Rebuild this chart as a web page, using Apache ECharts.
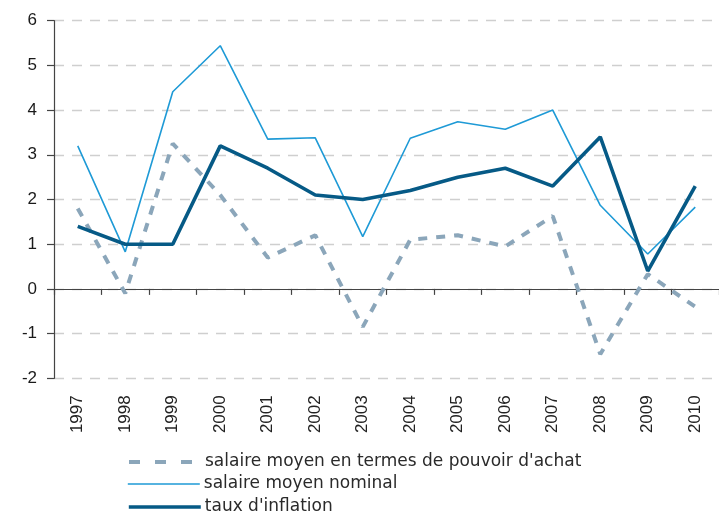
<!DOCTYPE html>
<html><head><meta charset="utf-8">
<script src="https://cdn.jsdelivr.net/npm/echarts@6/dist/echarts.min.js"></script>
<style>html,body{margin:0;padding:0;background:#fff}#c{width:719px;height:511px}</style>
</head><body><div id="c"></div>
<script>
var years = ['1997','1998','1999','2000','2001','2002','2003','2004','2005','2006','2007','2008','2009','2010'];
var pouvoirAchat = [1.8, -0.1, 3.25, 2.1, 0.7, 1.2, -0.85, 1.1, 1.2, 0.95, 1.63, -1.46, 0.33, -0.4];
var nominal = [3.2, 0.83, 4.41, 5.44, 3.35, 3.38, 1.17, 3.37, 3.74, 3.57, 4.0, 1.87, 0.78, 1.83];
var inflation = [1.4, 1.0, 1.0, 3.2, 2.7, 2.1, 2.0, 2.2, 2.5, 2.7, 2.3, 3.4, 0.4, 2.3];
var names = ["salaire moyen en termes de pouvoir d'achat", 'salaire moyen nominal', "taux d'inflation"];

function mkLegend(name, top, lineStyle) {
  return {
    orient: 'vertical', left: 127, top: top, itemWidth: 72, itemHeight: 14, itemGap: 0, padding: 0,
    itemStyle: {opacity: 0},
    lineStyle: lineStyle,
    textStyle: {fontFamily: 'DejaVu Sans', fontSize: 17, lineHeight: 18, color: '#2a2a2a', padding: [0,0,0,-1]},
    data: [name]
  };
}

var chart = echarts.init(document.getElementById('c'), null, {renderer:'canvas'});
chart.setOption({
  animation: false,
  grid: {left: 54, right: -10, top: 20.7, bottom: 132.7, containLabel: false},
  legend: [
    mkLegend(names[0], 453, {width: 4, type: [11, 15]}),
    mkLegend(names[1], 475, {width: 1.6}),
    mkLegend(names[2], 498, {width: 3.6})
  ],
  xAxis: [{
    type: 'category', data: years, boundaryGap: true,
    axisLine: {onZero: true, lineStyle: {color: '#444', width: 1.2}},
    axisTick: {show: true, length: 6, lineStyle: {color: '#444', width: 1.2}},
    axisLabel: {show: false}, splitLine: {show: false}
  }, {
    type: 'category', data: years, boundaryGap: true, position: 'bottom',
    axisLine: {show: false, onZero: false}, axisTick: {show: false},
    axisLabel: {rotate: 90, margin: 17, fontFamily: 'Liberation Sans', fontSize: 17, color: '#222'}
  }],
  yAxis: {
    type: 'value', min: -2, max: 6, interval: 1,
    axisLine: {show: true, lineStyle: {color: '#444', width: 1.2}},
    axisTick: {show: true, length: 7, lineStyle: {color: '#444', width: 1.2}},
    axisLabel: {fontFamily: 'Liberation Sans', fontSize: 17, color: '#1a1a1a', margin: 17},
    splitLine: {show: true, lineStyle: {color: '#cfcfcf', type: [10, 8], width: 1.3}}
  },
  series: [{
    name: names[0], type: 'line', data: pouvoirAchat, symbol: 'none', color: '#8ba6ba',
    lineStyle: {color: '#8ba6ba', width: 4, type: [9, 9]}
  }, {
    name: names[1], type: 'line', data: nominal, symbol: 'none', color: '#1e9ad6',
    lineStyle: {color: '#1e9ad6', width: 1.6}
  }, {
    name: names[2], type: 'line', data: inflation, symbol: 'none', color: '#065a86',
    lineStyle: {color: '#065a86', width: 3.6}
  }]
});
</script></body></html>
